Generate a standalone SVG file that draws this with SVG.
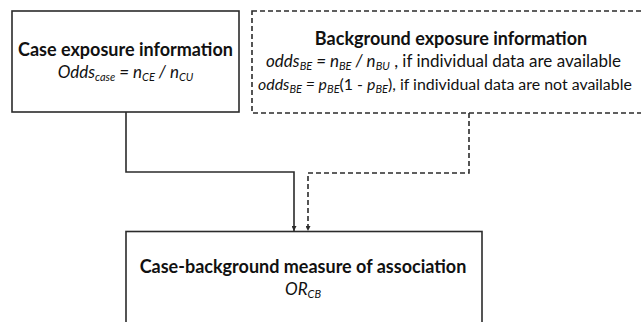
<svg xmlns="http://www.w3.org/2000/svg" width="641" height="322" viewBox="0 0 641 322">
  <defs>
    <marker id="arrow" viewBox="0 0 10 10" refX="10" refY="5" markerWidth="5" markerHeight="5" orient="auto" markerUnits="userSpaceOnUse">
      <path d="M0,0 L10,5 L0,10 z" fill="#2b2b2b"/>
    </marker>
  </defs>
  <style>
    .box { fill: #ffffff; stroke: #2b2b2b; stroke-width: 1.6; }
    .dashed { stroke-dasharray: 5 3; }
    .title { font-family: Lato, "Open Sans", sans-serif; font-weight: bold; font-size: 18px; fill: #111; text-anchor: middle; }
    .formula { font-family: Lato, "Open Sans", sans-serif; font-style: italic; font-size: 17px; fill: #111; }
    .narrow { font-size: 15.9px; }
    .plain { font-style: normal; }
    .sub { font-size: 11px; }
    .link { fill: none; stroke: #2b2b2b; stroke-width: 1.6; }
  </style>
  <rect width="641" height="322" fill="#ffffff"/>

  <g id="case-exposure">
    <rect class="box" x="12" y="11" width="227" height="101"/>
    <text class="title" x="125.5" y="56">Case exposure information</text>
    <text class="formula" x="125.5" y="78" text-anchor="middle">Odds<tspan class="sub" dy="3">case</tspan><tspan dy="-3"> = n</tspan><tspan class="sub" dy="3">CE</tspan><tspan dy="-3"> / n</tspan><tspan class="sub" dy="3">CU</tspan></text>
  </g>

  <g id="background-exposure">
    <rect class="box dashed" x="252" y="11" width="420" height="102"/>
    <text class="title" x="451" y="45">Background exposure information</text>
    <text class="formula" x="443.5" y="67" text-anchor="middle">odds<tspan class="sub" dy="3">BE</tspan><tspan dy="-3"> = n</tspan><tspan class="sub" dy="3">BE</tspan><tspan dy="-3"> / n</tspan><tspan class="sub" dy="3">BU</tspan><tspan dy="-3" class="plain"> , if individual data are available</tspan></text>
    <text class="formula narrow" x="258" y="90">odds<tspan class="sub" dy="3">BE</tspan><tspan dy="-3"> = p</tspan><tspan class="sub" dy="3">BE</tspan><tspan dy="-3" class="plain">(1 - </tspan><tspan>p</tspan><tspan class="sub" dy="3">BE</tspan><tspan dy="-3" class="plain">), if individual data are not available</tspan></text>
  </g>

  <g id="case-background">
    <rect class="box" x="126" y="231.5" width="356" height="110"/>
    <text class="title" x="303" y="273">Case-background measure of association</text>
    <text class="formula" x="303" y="295" text-anchor="middle">OR<tspan class="sub" dy="3">CB</tspan></text>
  </g>

  <g id="connectors">
    <path class="link" d="M126,112 V172 H294 V231" marker-end="url(#arrow)"/>
    <path class="link dashed" d="M469,113 V173 H308 V231" marker-end="url(#arrow)"/>
  </g>
</svg>
